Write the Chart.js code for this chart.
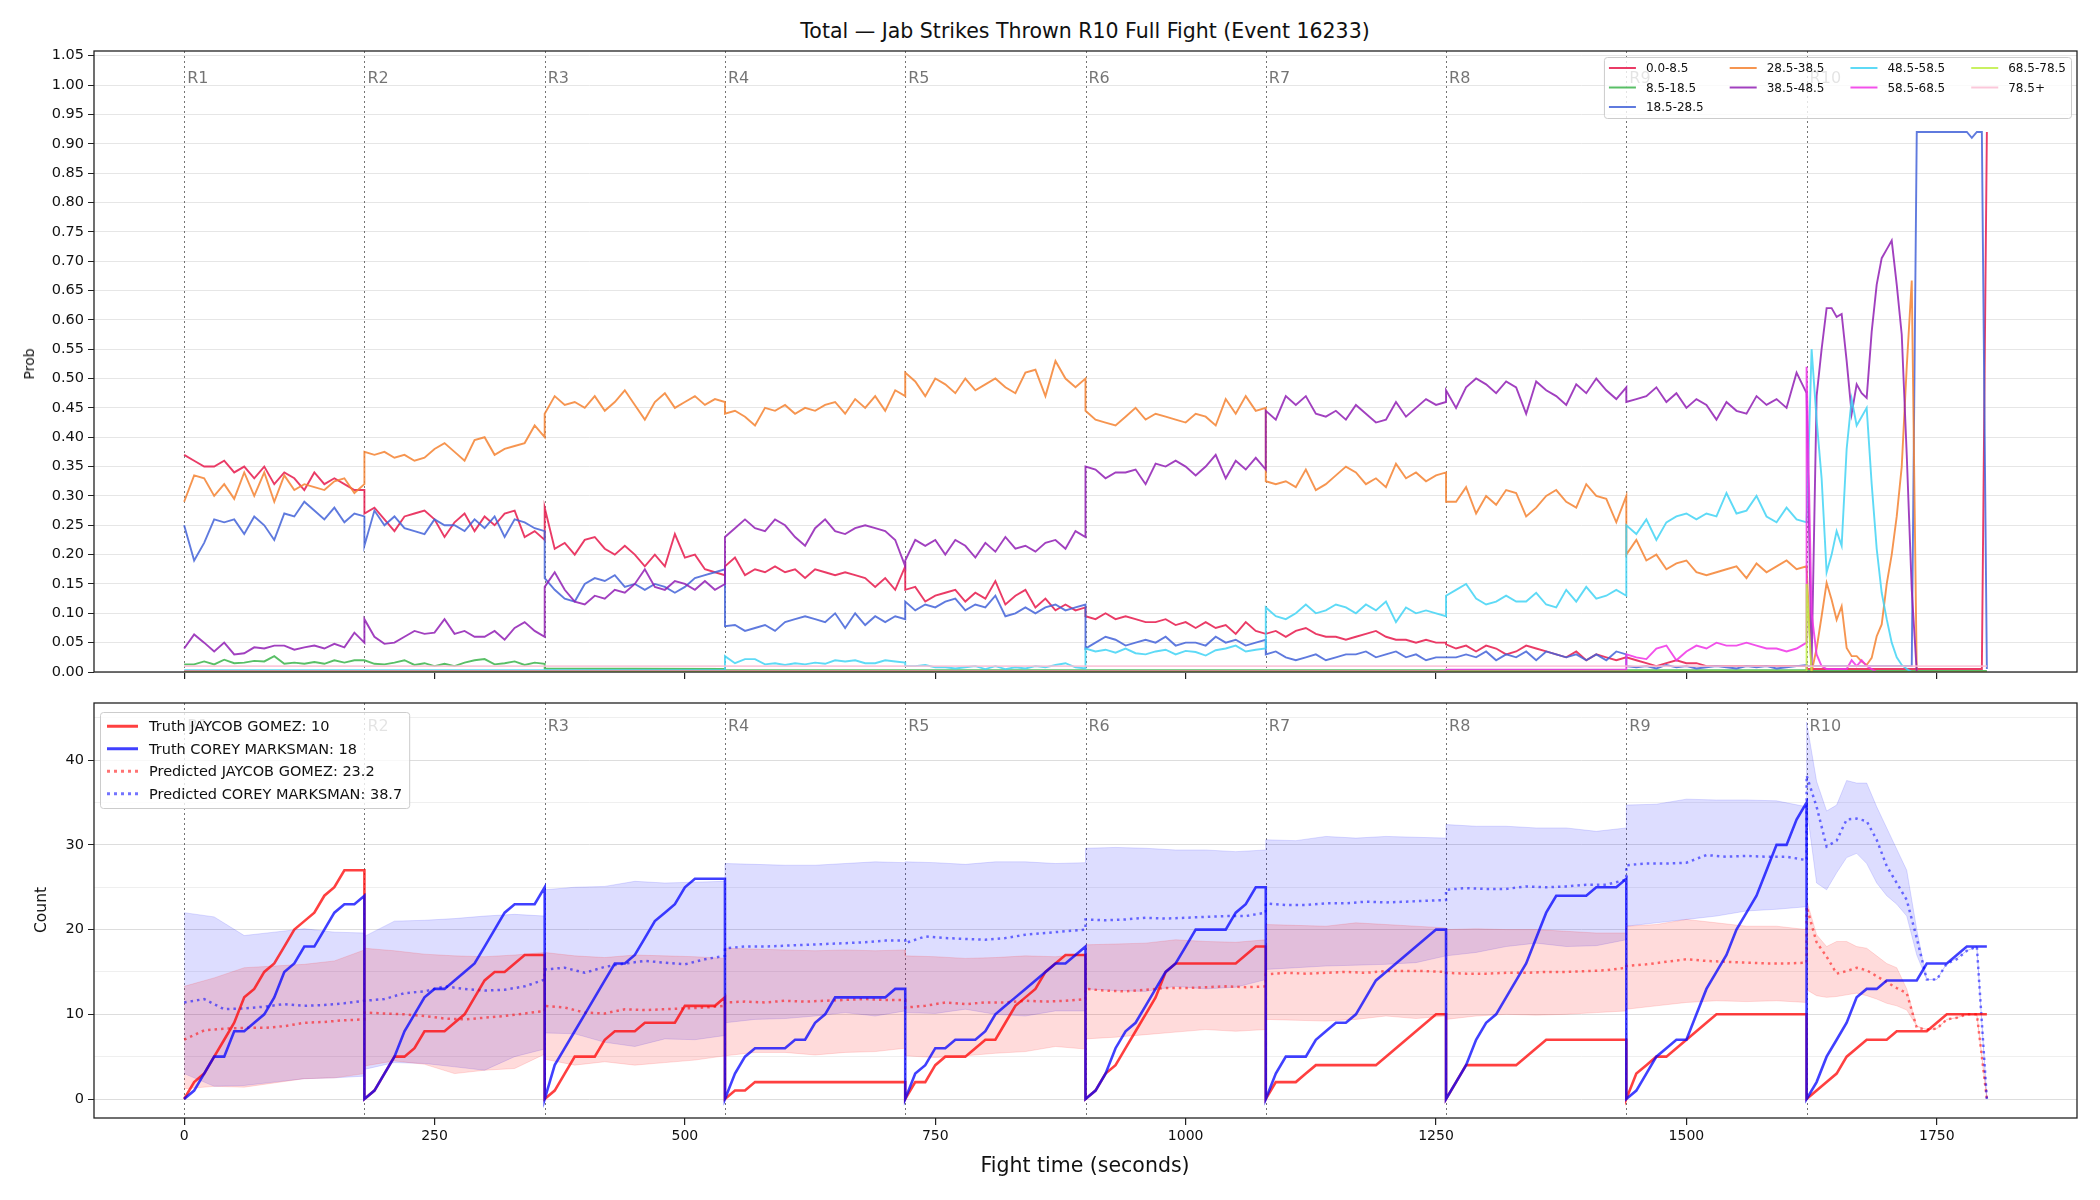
<!DOCTYPE html>
<html>
<head>
<meta charset="utf-8">
<title>Jab Strikes Thrown - Event 16233</title>
<script src="https://cdn.jsdelivr.net/npm/chart.js@4.4.1/dist/chart.umd.min.js"></script>
<style>
  html, body { margin: 0; padding: 0; background: #fff; }
  body { width: 2100px; height: 1200px; position: relative; overflow: hidden; font-family: "DejaVu Sans", sans-serif; color: #111; }
  canvas { position: absolute; left: 0; }
  #probChart { top: 0; }
  #countChart { top: 690px; }
  .lbl { position: absolute; white-space: nowrap; transform: translate(-50%, -50%); }
  .rot { transform: translate(-50%, -50%) rotate(-90deg); }
</style>
</head>
<body>
<div class="lbl" id="title" style="left:1085px;top:31px;font-size:20.5px">Total — Jab Strikes Thrown R10 Full Fight (Event 16233)</div>
<canvas id="probChart" width="2100" height="690" style="width:2100px;height:690px"></canvas>
<canvas id="countChart" width="2100" height="510" style="width:2100px;height:510px"></canvas>
<div class="lbl rot" style="left:29px;top:364px;font-size:14px">Prob</div>
<div class="lbl rot" style="left:41px;top:910px;font-size:15.5px">Count</div>
<div class="lbl" style="left:1085px;top:1165px;font-size:20.5px">Fight time (seconds)</div>
<script>
// ---- axes / rounds ----
const roundStarts = [0, 180, 360, 540, 720, 900, 1080, 1260, 1440, 1620];
const roundNames = ['R1', 'R2', 'R3', 'R4', 'R5', 'R6', 'R7', 'R8', 'R9', 'R10'];
const roundLen = 180;
const timeTicks = [0, 250, 500, 750, 1000, 1250, 1500, 1750];
const probTicks = [0, 0.05, 0.1, 0.15, 0.2, 0.25, 0.3, 0.35, 0.4, 0.45, 0.5, 0.55, 0.6, 0.65, 0.7, 0.75, 0.8, 0.85, 0.9, 0.95, 1.0, 1.05];
const countTicks = [0, 5, 10, 15, 20, 25, 30, 35, 40, 45];

// ---- top panel: probability per bin, one array per round (evenly spaced over the round) ----
const binLabels = ['0.0-8.5', '8.5-18.5', '18.5-28.5', '28.5-38.5', '38.5-48.5', '48.5-58.5', '58.5-68.5', '68.5-78.5', '78.5+'];

const prob0to8 = [
  [0.37,0.36,0.35,0.35,0.36,0.34,0.35,0.33,0.35,0.32,0.34,0.33,0.31,0.34,0.32,0.33,0.32,0.31,0.31],
  [0.27,0.28,0.26,0.24,0.265,0.27,0.275,0.26,0.23,0.255,0.27,0.24,0.265,0.25,0.27,0.275,0.23,0.24,0.225],
  [0.28,0.21,0.22,0.2,0.225,0.23,0.21,0.2,0.215,0.2,0.18,0.2,0.18,0.235,0.195,0.2,0.175,0.17,0.165],
  [0.18,0.195,0.165,0.175,0.17,0.18,0.17,0.175,0.16,0.175,0.17,0.165,0.17,0.165,0.16,0.145,0.16,0.14,0.18],
  [0.14,0.145,0.12,0.13,0.135,0.14,0.12,0.135,0.125,0.155,0.115,0.13,0.14,0.11,0.125,0.105,0.115,0.105,0.11],
  [0.095,0.09,0.1,0.09,0.095,0.09,0.085,0.085,0.09,0.08,0.085,0.075,0.085,0.075,0.08,0.065,0.085,0.07,0.065],
  [0.065,0.07,0.06,0.07,0.075,0.065,0.06,0.06,0.055,0.06,0.065,0.07,0.06,0.055,0.055,0.05,0.055,0.05,0.05],
  [0.047,0.04,0.045,0.035,0.045,0.04,0.03,0.035,0.045,0.04,0.035,0.03,0.025,0.035,0.02,0.03,0.025,0.02,0.025],
  [0.025,0.02,0.015,0.01,0.015,0.02,0.015,0.015,0.01,0.01,0.01,0.01,0.01,0.01,0.01,0.01,0.01,0.01,0.01],
  [0.005,0.005,0.005,0.005,0.005,0.005,0.005,0.005,0.005,0.005,
   0.005,0.005,0.005,0.005,0.005,0.005,0.005,0.005,0.005,0.005,
   0.005,0.005,0.005,0.005,0.005,0.005,0.005,0.005,0.005,0.005,
   0.005,0.005,0.005,0.005,0.005,0.005,0.92]
];
const prob8to18 = [
  [0.013,0.013,0.018,0.013,0.021,0.015,0.016,0.019,0.018,0.027,0.014,0.016,0.014,0.017,0.014,0.02,0.016,0.02,0.02],
  [0.02,0.014,0.013,0.016,0.02,0.012,0.015,0.01,0.014,0.01,0.016,0.02,0.022,0.013,0.015,0.018,0.012,0.016,0.014],
  [0.006,0.005], [0.003,0.003], [0.003,0.003], [0.003,0.003], [0.003,0.003], [0.003,0.003], [0.003,0.003], [0.002,0.002]
];
const prob18to28 = [
  [0.25,0.19,0.22,0.26,0.255,0.26,0.235,0.265,0.25,0.225,0.27,0.265,0.29,0.275,0.26,0.28,0.255,0.27,0.265],
  [0.215,0.275,0.25,0.265,0.245,0.24,0.235,0.26,0.25,0.25,0.24,0.26,0.245,0.265,0.23,0.26,0.255,0.245,0.24],
  [0.16,0.14,0.125,0.12,0.15,0.16,0.155,0.165,0.145,0.15,0.14,0.15,0.145,0.135,0.145,0.16,0.165,0.17,0.175],
  [0.078,0.08,0.07,0.075,0.08,0.07,0.085,0.09,0.095,0.09,0.085,0.1,0.075,0.1,0.08,0.095,0.085,0.095,0.09],
  [0.12,0.105,0.115,0.11,0.12,0.125,0.105,0.115,0.11,0.13,0.095,0.1,0.11,0.1,0.11,0.115,0.105,0.11,0.115],
  [0.04,0.05,0.06,0.055,0.045,0.05,0.055,0.05,0.06,0.045,0.05,0.05,0.045,0.06,0.05,0.055,0.045,0.05,0.055],
  [0.03,0.035,0.025,0.02,0.025,0.03,0.02,0.025,0.03,0.03,0.035,0.025,0.03,0.035,0.025,0.03,0.02,0.025,0.025],
  [0.025,0.025,0.03,0.025,0.035,0.02,0.03,0.025,0.035,0.02,0.035,0.03,0.025,0.03,0.02,0.03,0.02,0.035,0.03],
  [0.01,0.008,0.01,0.006,0.012,0.008,0.01,0.006,0.008,0.01,0.008,0.006,0.01,0.008,0.01,0.006,0.008,0.01,0.012],
  [0.01,0.01,0.01,0.01,0.01,0.01,0.01,0.01,0.01,0.01,
   0.01,0.01,0.01,0.01,0.01,0.01,0.01,0.01,0.01,0.01,
   0.01,0.01,0.92,0.92,0.92,0.92,0.92,0.92,0.92,0.92,
   0.92,0.92,0.92,0.91,0.92,0.92,0.005]
];
const prob28to38 = [
  [0.29,0.335,0.33,0.3,0.32,0.295,0.34,0.3,0.34,0.29,0.335,0.31,0.32,0.315,0.31,0.325,0.33,0.305,0.32],
  [0.375,0.37,0.375,0.365,0.37,0.36,0.365,0.38,0.39,0.375,0.36,0.395,0.4,0.37,0.38,0.385,0.39,0.42,0.4],
  [0.44,0.47,0.455,0.46,0.45,0.47,0.445,0.46,0.48,0.455,0.43,0.46,0.475,0.45,0.46,0.47,0.455,0.465,0.46],
  [0.44,0.445,0.435,0.42,0.45,0.445,0.455,0.44,0.45,0.445,0.455,0.46,0.44,0.465,0.45,0.47,0.445,0.48,0.47],
  [0.51,0.495,0.47,0.5,0.49,0.475,0.5,0.48,0.49,0.5,0.485,0.475,0.51,0.515,0.47,0.53,0.5,0.485,0.5],
  [0.445,0.43,0.425,0.42,0.435,0.45,0.43,0.44,0.435,0.43,0.425,0.44,0.435,0.42,0.465,0.44,0.47,0.445,0.45],
  [0.325,0.32,0.325,0.315,0.345,0.31,0.32,0.335,0.35,0.34,0.32,0.33,0.315,0.355,0.33,0.34,0.325,0.335,0.34],
  [0.29,0.29,0.315,0.27,0.3,0.285,0.31,0.305,0.265,0.28,0.3,0.31,0.29,0.28,0.32,0.3,0.295,0.255,0.3],
  [0.2,0.225,0.19,0.2,0.175,0.185,0.19,0.17,0.165,0.17,0.175,0.18,0.16,0.185,0.17,0.18,0.19,0.175,0.18],
  [0.18,0.0,0.04,0.095,0.152,0.123,0.089,0.112,0.041,0.027,
   0.027,0.018,0.012,0.024,0.061,0.081,0.15,0.2,0.265,0.35,
   0.52,0.667,0.0,0.0,0.0,0.0,0.0,0.0,0.0,0.0,
   0.0,0.0,0.0,0.0,0.0,0.0,0.0]
];
const prob38to48 = [
  [0.04,0.064,0.05,0.035,0.05,0.03,0.032,0.042,0.04,0.045,0.045,0.038,0.042,0.045,0.04,0.048,0.042,0.067,0.05],
  [0.09,0.06,0.048,0.05,0.06,0.07,0.065,0.067,0.09,0.065,0.07,0.06,0.06,0.07,0.055,0.075,0.085,0.07,0.06],
  [0.145,0.17,0.14,0.12,0.115,0.13,0.125,0.14,0.135,0.15,0.175,0.145,0.14,0.155,0.15,0.14,0.155,0.14,0.15],
  [0.23,0.245,0.26,0.245,0.24,0.26,0.25,0.23,0.215,0.245,0.26,0.24,0.235,0.245,0.25,0.245,0.24,0.225,0.18],
  [0.19,0.225,0.215,0.225,0.2,0.225,0.215,0.195,0.22,0.205,0.23,0.21,0.215,0.205,0.22,0.225,0.21,0.24,0.23],
  [0.35,0.345,0.33,0.34,0.34,0.345,0.32,0.355,0.35,0.36,0.35,0.335,0.35,0.37,0.33,0.36,0.345,0.365,0.345],
  [0.445,0.43,0.47,0.455,0.47,0.44,0.435,0.445,0.43,0.455,0.44,0.425,0.43,0.46,0.435,0.45,0.465,0.455,0.46],
  [0.48,0.45,0.485,0.5,0.49,0.475,0.495,0.485,0.44,0.495,0.48,0.47,0.455,0.49,0.475,0.5,0.48,0.465,0.485],
  [0.46,0.465,0.47,0.485,0.46,0.475,0.45,0.465,0.455,0.43,0.46,0.445,0.44,0.47,0.455,0.465,0.45,0.51,0.475],
  [0.475,0.01,0.47,0.55,0.62,0.62,0.605,0.61,0.53,0.44,
   0.49,0.475,0.467,0.58,0.66,0.705,0.72,0.735,0.66,0.575,
   0.37,0.14,0.0,0.0,0.0,0.0,0.0,0.0,0.0,0.0,
   0.0,0.0,0.0,0.0,0.0,0.0,0.0]
];
const prob48to58 = [
  [0.003,0.003], [0.003,0.003], [0.003,0.003],
  [0.027,0.015,0.022,0.022,0.013,0.015,0.012,0.015,0.013,0.016,0.014,0.02,0.018,0.02,0.015,0.015,0.02,0.018,0.016],
  [0.01,0.01,0.012,0.008,0.008,0.006,0.008,0.01,0.005,0.01,0.005,0.008,0.006,0.01,0.008,0.012,0.015,0.008,0.006],
  [0.04,0.035,0.038,0.033,0.04,0.032,0.03,0.035,0.038,0.03,0.036,0.034,0.028,0.037,0.04,0.045,0.035,0.038,0.04],
  [0.11,0.095,0.09,0.1,0.115,0.1,0.105,0.115,0.11,0.1,0.115,0.105,0.12,0.085,0.11,0.1,0.105,0.1,0.095],
  [0.13,0.14,0.15,0.125,0.115,0.12,0.13,0.12,0.12,0.135,0.115,0.11,0.14,0.12,0.145,0.125,0.13,0.14,0.13],
  [0.25,0.235,0.26,0.225,0.255,0.265,0.27,0.26,0.27,0.265,0.305,0.27,0.275,0.3,0.265,0.255,0.28,0.26,0.255],
  [0.255,0.55,0.43,0.33,0.17,0.2,0.24,0.215,0.38,0.465,
   0.42,0.435,0.45,0.32,0.21,0.135,0.09,0.05,0.025,0.012,
   0.005,0.0,0.0,0.0,0.0,0.0,0.0,0.0,0.0,0.0,
   0.0,0.0,0.0,0.0,0.0,0.0,0.0]
];
const prob58to68 = [
  [0.002,0.002], [0.002,0.002], [0.002,0.002], [0.002,0.002], [0.002,0.002], [0.002,0.002], [0.002,0.002],
  [0.004,0.004],
  [0.03,0.025,0.022,0.04,0.045,0.02,0.035,0.045,0.04,0.05,0.045,0.045,0.05,0.045,0.04,0.04,0.035,0.04,0.05],
  [0.52,0.1,0.03,0.01,0.005,0.005,0.005,0.005,0.005,0.02,
   0.01,0.02,0.01,0.005,0.0,0.0,0.0,0.0,0.0,0.0,
   0.0,0.0,0.0,0.0,0.0,0.0,0.0,0.0,0.0,0.0,
   0.0,0.0,0.0,0.0,0.0,0.0,0.0]
];
const prob68to78 = [
  [0.001,0.001], [0.001,0.001], [0.001,0.001], [0.001,0.001], [0.001,0.001],
  [0.001,0.001], [0.001,0.001], [0.001,0.001], [0.001,0.001],
  [0.15,0.0,0.0,0.0,0.0,0.0,0.0,0.0,0.0,0.0,
   0.0,0.0,0.0,0.0,0.0,0.0,0.0,0.0,0.0,0.0,
   0.0,0.0,0.0,0.0,0.0,0.0,0.0,0.0,0.0,0.0,
   0.0,0.0,0.0,0.0,0.0,0.0,0.0]
];
const prob78plus = [
  [0.01,0.01], [0.01,0.01], [0.01,0.01], [0.01,0.01], [0.01,0.01],
  [0.01,0.01], [0.01,0.01], [0.01,0.01], [0.01,0.01], [0.01,0.01]
];
const probSeries = [prob0to8, prob8to18, prob18to28, prob28to38, prob38to48, prob48to58, prob58to68, prob68to78, prob78plus];
const binColors = ['rgba(230,25,75,0.85)', 'rgba(60,180,75,0.85)', 'rgba(67,99,216,0.85)', 'rgba(245,130,49,0.85)',
  'rgba(145,30,180,0.85)', 'rgba(66,212,244,0.85)', 'rgba(240,50,230,0.85)', 'rgba(191,239,69,0.85)', 'rgba(250,190,212,0.85)'];

// ---- bottom panel: cumulative counts per round ----
const seriesNames = ['Truth JAYCOB GOMEZ: 10', 'Truth COREY MARKSMAN: 18', 'Predicted JAYCOB GOMEZ: 23.2', 'Predicted COREY MARKSMAN: 38.7'];

const truthGomez = [
  [0,2,3,5,7,9,12,13,15,16,18,20,21,22,24,25,27,27,27],
  [0,1,3,5,5,6,8,8,8,9,10,12,14,15,15,16,17,17,17],
  [0,1,3,5,5,5,7,8,8,8,9,9,9,9,11,11,11,11,12],
  [0,1,1,2,2,2,2,2,2,2,2,2,2,2,2,2,2,2,2],
  [0,2,2,4,5,5,5,6,7,7,9,11,12,13,15,16,17,17,17],
  [0,1,3,4,6,8,10,12,15,16,16,16,16,16,16,16,17,18,18],
  [0,2,2,2,3,4,4,4,4,4,4,4,5,6,7,8,9,10,10],
  [0,2,4,4,4,4,4,4,5,6,7,7,7,7,7,7,7,7,7],
  [0,3,4,5,5,6,7,8,9,10,10,10,10,10,10,10,10,10,10],
  [0,1,2,3,5,6,7,7,7,8,8,8,8,9,10,10,10,10,10]
];
const truthMarksman = [
  [0,1,3,5,5,8,8,9,10,12,15,16,18,18,20,22,23,23,24],
  [0,1,3,5,8,10,12,13,13,14,15,16,18,20,22,23,23,23,25],
  [0,4,6,8,10,12,14,16,16,17,19,21,22,23,25,26,26,26,26],
  [0,3,5,6,6,6,6,7,7,9,10,12,12,12,12,12,12,13,13],
  [0,3,4,6,6,7,7,7,8,10,11,12,13,14,15,16,16,17,18],
  [0,1,3,6,8,9,11,13,15,16,18,20,20,20,20,22,23,25,25],
  [0,3,5,5,5,7,8,9,9,10,12,14,15,16,17,18,19,20,20],
  [0,2,4,7,9,10,12,14,16,19,22,24,24,24,24,25,25,25,26],
  [0,1,3,5,6,7,7,10,13,15,17,20,22,24,27,30,30,33,35],
  [0,2,5,7,9,12,13,13,14,14,14,14,16,16,16,17,18,18,18]
];
const predGomez = [
  [7,8.1,8.3,8.4,8.4,8.6,9,9.1,9.3,9.4],
  [10.2,10.1,10,9.8,9.5,9.4,9.6,9.8,10.1,10.4],
  [11,10.8,10.2,10.1,10.6,10.5,10.6,10.7,10.8,11],
  [11.4,11.5,11.4,11.6,11.5,11.6,11.7,11.8,11.7,11.7],
  [10.8,11,11.4,11.2,11.4,11.4,11.6,11.5,11.6,11.8],
  [13,12.8,12.7,12.9,13.1,13.1,13.2,13.3,13.2,13.3],
  [14.7,14.9,14.8,14.9,15,14.9,15.1,15.1,15.1,15],
  [14.9,14.8,14.8,14.9,14.9,15,15,15.1,15.2,15.5],
  [15.7,15.9,16.2,16.5,16.3,16.2,16.1,16,16,16.1],
  [22.7,18.5,16.8,14.8,15.1,15.5,15.2,14.5,13.8,13.1,12.5,8.4,8.2,8.3,9.4,9.6,10,10,0]
];
const predMarksman = [
  [11.4,11.8,10.6,10.7,10.9,11.2,11,11.1,11.3,11.6],
  [11.6,11.8,12.5,12.7,13.3,13,12.8,12.9,13.3,14.1],
  [15.3,15.5,14.9,15.6,16,16.3,16.1,15.9,16.5,16.9],
  [17.8,18,18,18.1,18.2,18.3,18.4,18.5,18.7,18.7],
  [18.4,19.2,19,18.9,18.8,19,19.4,19.6,19.8,20],
  [21.2,21.1,21.2,21.4,21.3,21.4,21.5,21.6,21.6,22],
  [23.1,22.9,22.9,23.1,23.1,23.3,23.2,23.3,23.4,23.5],
  [24.7,24.9,24.8,24.8,25.1,25,25.1,25.3,25.3,25.9],
  [27.6,27.8,27.8,27.9,28.8,28.6,28.7,28.6,28.6,28.2],
  [38.2,34.5,29.8,30.5,33,33.1,32.8,30.6,27.5,25.5,23.5,19,14.1,14.1,16,16.5,17.5,18,0]
];
const bandGomezLow = [
  [1.2,1.5,1.4,1.9,2.4,2.5,3],
  [3.9,4.5,4.1,3,3.4,3.6,5.3],
  [4.7,4,4.4,4,4.3,4.6,5.1],
  [5.1,5.5,5.5,5.2,5.5,5.6,6],
  [5.1,4.9,5.1,5.4,5.6,6.2,5.9],
  [7.1,7.3,7.6,7.9,8.2,8,8.2],
  [9.4,9.3,9.2,9.4,9.8,9.5,9.8],
  [9.4,9.8,10,9.9,10,10.2,10.4],
  [10.6,11,11.4,11.6,11.5,11.6,11.4],
  [12.9,12.2,12,12.1,12.3,12.5,12.2,11.8,11.3,11,10.5,8.6,8.2,8.3,9.4,9.6,10,10,0]
];
const bandGomezHigh = [
  [13.3,14.3,15.5,15.7,15.9,16.3,17.6],
  [17.8,17.5,17.1,16.9,16.8,17,17.3],
  [17.3,16.9,16.7,17,16.9,16.8,16.6],
  [17.8,17.7,17.6,17.5,17.6,17.5,17.6],
  [16.9,16.8,16.6,16.7,16.9,16.8,17.1],
  [18.2,18.3,18.4,18.8,18.6,18.5,18.8],
  [20.6,20.5,20.4,20.8,20.6,20.4,20.2],
  [20,20.1,20,20,19.8,19.6,19.6],
  [20.4,20.6,21.2,20.8,20.4,20.4,20],
  [23.5,19.4,18,18.6,18.6,18,17.8,16.9,16,15.5,13,8.6,8.2,8.3,9.4,9.6,10,10,0]
];
const bandMarksmanLow = [
  [3,1.5,1.6,2,2.4,2.5,2.7],
  [3.5,4.3,4.2,3.8,3.4,5,5.9],
  [7.8,7.7,6.7,6.2,7.1,7,7.5],
  [9,9.4,9.5,9.8,10.2,9.8,10.4],
  [10.2,10.1,10.6,10,9.8,10.4,10.4],
  [13,12.8,12.7,13.3,13,13.2,14.1],
  [15.3,15.5,15.7,15.8,15.9,16.1,16.9],
  [16.9,17.3,18,18.4,18,18.1,18.8],
  [20.4,20.8,21.2,21.6,22.2,22.4,22.7],
  [34.5,25.5,24.7,26.7,28.5,29,27.8,25.5,24,23,21.6,17,14.1,14.1,16,16.6,17.5,18,0]
];
const bandMarksmanHigh = [
  [22,21.5,19.3,19.7,20.1,19.7,19.6],
  [19.2,21,21.1,21.3,21.6,21.8,21.6],
  [24.7,25,25.1,25.7,25.5,25.6,25.7],
  [27.8,27.7,27.6,27.6,27.8,28,27.9],
  [28,27.9,27.7,28,28,27.8,27.9],
  [29.6,29.7,29.6,29.4,29.4,29.2,29.4],
  [30.6,30.5,31,30.8,31,30.9,30.8],
  [32.4,32.2,32.2,32,32,31.6,32],
  [34.7,34.8,35.4,35.3,35.3,35.2,34.5],
  [44.5,37.5,34,34.7,37.6,37.3,37.3,34.5,32,29.5,27,20,14.1,14.1,16,16.6,17.5,18,0]
];

// rounds -> {x: fight seconds, y}
function toPoints(rounds) {
  const pts = [];
  rounds.forEach((vals, r) => {
    const step = roundLen / (vals.length - 1);
    vals.forEach((v, i) => pts.push({ x: roundStarts[r] + i * step, y: v }));
  });
  return pts;
}

const FONT = '"DejaVu Sans", sans-serif';
Chart.defaults.font.family = FONT;
Chart.defaults.color = '#111';

// dotted round separators + R labels
const roundMarks = {
  id: 'roundMarks',
  beforeDatasetsDraw(chart, args, opts) {
    const { ctx, chartArea: a, scales: { x } } = chart;
    ctx.save();
    ctx.strokeStyle = 'rgba(70,70,70,0.75)';
    ctx.lineWidth = 1;
    ctx.setLineDash([2, 3]);
    roundStarts.forEach(t => {
      const px = Math.round(x.getPixelForValue(t)) + 0.5;
      ctx.beginPath(); ctx.moveTo(px, a.top); ctx.lineTo(px, a.bottom); ctx.stroke();
    });
    ctx.setLineDash([]);
    ctx.fillStyle = 'rgba(0,0,0,0.55)';
    ctx.font = '16px ' + FONT;
    ctx.textBaseline = 'alphabetic';
    roundStarts.forEach((t, i) => ctx.fillText(roundNames[i], x.getPixelForValue(t) + 3, a.top + opts.labelOffset));
    ctx.restore();
  }
};

// full box round the plot area
const frame = {
  id: 'frame',
  afterDatasetsDraw(chart) {
    const { ctx, chartArea: a } = chart;
    ctx.save();
    ctx.strokeStyle = '#222';
    ctx.lineWidth = 1.3;
    ctx.strokeRect(a.left, a.top, a.right - a.left, a.bottom - a.top);
    ctx.restore();
  }
};

// matplotlib-like boxed legend, column-major
const boxLegend = {
  id: 'boxLegend',
  afterDraw(chart, args, o) {
    const { ctx, chartArea: a } = chart;
    ctx.save();
    ctx.font = o.fontSize + 'px ' + FONT;
    const colW = o.columns.map(col => Math.max(...col.map(it => ctx.measureText(it.label).width)));
    let w = o.pad * 2;
    colW.forEach((cw, i) => { w += o.handle + o.gap + cw + (i ? o.colGap : 0); });
    const rows = Math.max(...o.columns.map(c => c.length));
    const h = o.pad * 2 + rows * o.rowH - (o.rowH - o.fontSize);
    const left = o.align === 'right' ? a.right - o.inset - w : a.left + o.inset;
    const top = a.top + o.insetTop;
    ctx.fillStyle = 'rgba(255,255,255,0.8)';
    ctx.strokeStyle = '#cccccc';
    ctx.lineWidth = 1;
    ctx.beginPath();
    ctx.roundRect(left + 0.5, top + 0.5, w, h, 3);
    ctx.fill(); ctx.stroke();
    let cx = left + o.pad;
    o.columns.forEach((col, ci) => {
      col.forEach((it, ri) => {
        const cy = top + o.pad + o.fontSize / 2 + ri * o.rowH;
        ctx.strokeStyle = it.color;
        ctx.lineWidth = it.width;
        ctx.setLineDash(it.dash || []);
        ctx.beginPath(); ctx.moveTo(cx, cy); ctx.lineTo(cx + o.handle, cy); ctx.stroke();
        ctx.setLineDash([]);
        ctx.fillStyle = '#111';
        ctx.textBaseline = 'middle';
        ctx.fillText(it.label, cx + o.handle + o.gap, cy + 1);
      });
      cx += o.handle + o.gap + colW[ci] + o.colGap;
    });
    ctx.restore();
  }
};

// ---- top chart ----
const probDatasets = binLabels.map((lab, i) => ({
  label: lab,
  data: toPoints(probSeries[i]),
  borderColor: binColors[i],
  borderWidth: 1.9,
  pointRadius: 0,
  fill: false,
  order: binLabels.length - i
}));
const legendItems = binLabels.map((lab, i) => ({ label: lab, color: binColors[i], width: 2 }));

new Chart(document.getElementById('probChart'), {
  type: 'line',
  data: { datasets: probDatasets },
  options: {
    responsive: false, animation: false, devicePixelRatio: 1, events: [],
    layout: { padding: { top: 51, right: 23, left: 0, bottom: 0 } },
    plugins: {
      legend: { display: false }, tooltip: { enabled: false },
      roundMarks: { labelOffset: 32 },
      boxLegend: {
        columns: [legendItems.slice(0, 3), legendItems.slice(3, 5), legendItems.slice(5, 7), legendItems.slice(7, 9)],
        fontSize: 12, rowH: 19.5, pad: 5, handle: 27, gap: 10, colGap: 26, align: 'right', inset: 6, insetTop: 6
      }
    },
    scales: {
      x: {
        type: 'linear', min: -90, max: 1890,
        afterBuildTicks: s => { s.ticks = timeTicks.map(v => ({ value: v })); },
        afterFit: s => { s.height = 18; },
        ticks: { display: false },
        grid: { drawOnChartArea: false, tickLength: 7, color: '#222', lineWidth: 1.2 },
        border: { display: false }
      },
      y: {
        type: 'linear', min: 0, max: 1.058,
        afterBuildTicks: s => { s.ticks = probTicks.map(v => ({ value: v })); },
        afterFit: s => { s.width = 94; },
        ticks: { callback: v => Number(v).toFixed(2), font: { size: 14.5 }, color: '#111', padding: 4 },
        grid: { color: '#e6e6e6', lineWidth: 1, tickLength: 6, tickColor: '#222' },
        border: { display: false }
      }
    }
  },
  plugins: [roundMarks, frame, boxLegend]
});

// ---- bottom chart ----
const RED = 'rgba(255,0,0,0.75)', BLUE = 'rgba(0,0,255,0.75)';
const RED_DOT = 'rgba(255,0,0,0.55)', BLUE_DOT = 'rgba(0,0,255,0.55)';
const countDatasets = [
  { label: 'band_m_lo', data: toPoints(bandMarksmanLow), borderColor: 'rgba(0,0,255,0.13)', borderWidth: 1, pointRadius: 0, fill: false, order: 10 },
  { label: 'band_m_hi', data: toPoints(bandMarksmanHigh), borderColor: 'rgba(0,0,255,0.13)', borderWidth: 1, pointRadius: 0, fill: '-1', backgroundColor: 'rgba(0,0,255,0.135)', order: 10 },
  { label: 'band_g_lo', data: toPoints(bandGomezLow), borderColor: 'rgba(255,0,0,0.13)', borderWidth: 1, pointRadius: 0, fill: false, order: 9 },
  { label: 'band_g_hi', data: toPoints(bandGomezHigh), borderColor: 'rgba(255,0,0,0.13)', borderWidth: 1, pointRadius: 0, fill: '-1', backgroundColor: 'rgba(255,0,0,0.14)', order: 9 },
  { label: seriesNames[2], data: toPoints(predGomez), borderColor: RED_DOT, borderWidth: 2.5, borderDash: [2.5, 4], pointRadius: 0, fill: false, order: 4 },
  { label: seriesNames[3], data: toPoints(predMarksman), borderColor: BLUE_DOT, borderWidth: 2.5, borderDash: [2.5, 4], pointRadius: 0, fill: false, order: 3 },
  { label: seriesNames[0], data: toPoints(truthGomez), borderColor: RED, borderWidth: 2.6, pointRadius: 0, fill: false, order: 2 },
  { label: seriesNames[1], data: toPoints(truthMarksman), borderColor: BLUE, borderWidth: 2.6, pointRadius: 0, fill: false, order: 1 }
];

new Chart(document.getElementById('countChart'), {
  type: 'line',
  data: { datasets: countDatasets },
  options: {
    responsive: false, animation: false, devicePixelRatio: 1, events: [],
    layout: { padding: { top: 13, right: 23, left: 0, bottom: 0 } },
    plugins: {
      legend: { display: false }, tooltip: { enabled: false },
      roundMarks: { labelOffset: 28 },
      boxLegend: {
        columns: [[
          { label: seriesNames[0], color: RED, width: 3 },
          { label: seriesNames[1], color: BLUE, width: 3 },
          { label: seriesNames[2], color: RED_DOT, width: 3, dash: [3, 4] },
          { label: seriesNames[3], color: BLUE_DOT, width: 3, dash: [3, 4] }
        ]],
        fontSize: 14.5, rowH: 22.5, pad: 7, handle: 31, gap: 11, colGap: 0, align: 'left', inset: 6, insetTop: 9
      }
    },
    scales: {
      x: {
        type: 'linear', min: -90, max: 1890,
        afterBuildTicks: s => { s.ticks = timeTicks.map(v => ({ value: v })); },
        afterFit: s => { s.height = 82; },
        ticks: { callback: v => String(v), font: { size: 14 }, color: '#111', padding: 3, maxRotation: 0 },
        grid: { drawOnChartArea: false, tickLength: 7, color: '#222', lineWidth: 1.2 },
        border: { display: false }
      },
      y: {
        type: 'linear', min: -2.24, max: 46.75,
        afterBuildTicks: s => { s.ticks = countTicks.map(v => ({ value: v })); },
        afterFit: s => { s.width = 94; },
        ticks: { callback: v => (v % 10 === 0 ? String(v) : ''), font: { size: 14.5 }, color: '#111', padding: 4 },
        grid: {
          color: c => (c.tick && c.tick.value % 10 === 0 ? '#dddddd' : '#efefef'),
          tickColor: c => (c.tick && c.tick.value % 10 === 0 ? '#222' : 'rgba(0,0,0,0)'),
          lineWidth: 1, tickLength: 6
        },
        border: { display: false }
      }
    }
  },
  plugins: [roundMarks, frame, boxLegend]
});
</script>
</body>
</html>
